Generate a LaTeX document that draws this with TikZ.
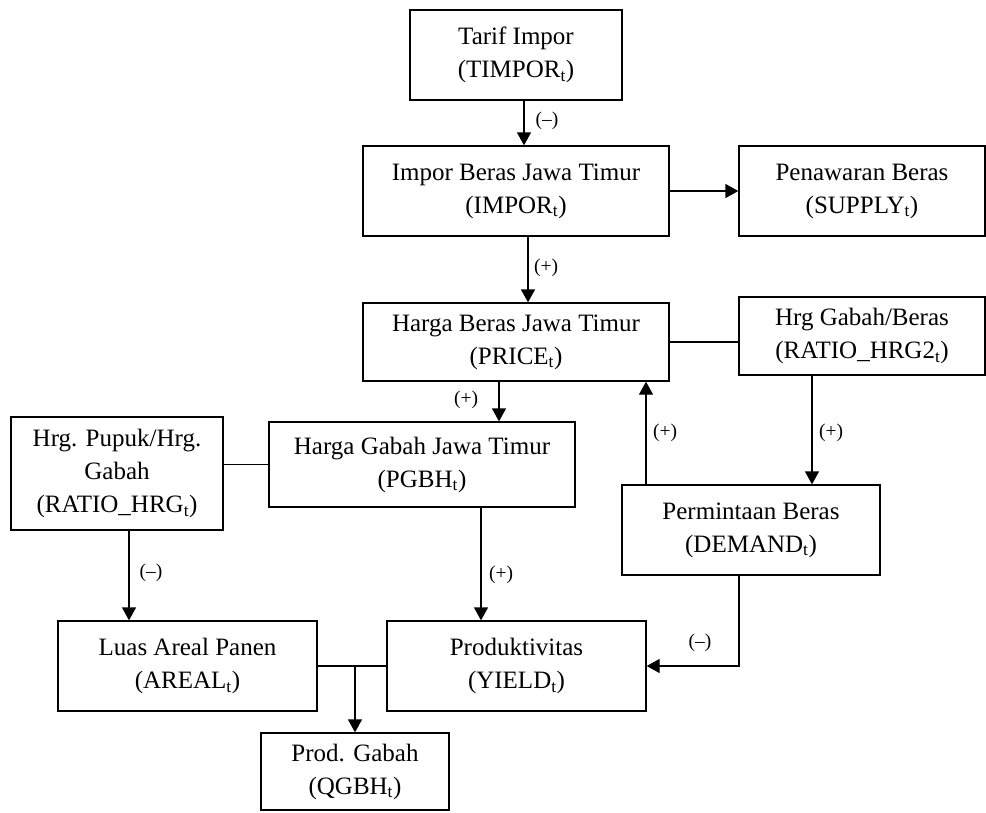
\documentclass[tikz,border=0pt]{standalone}
\usepackage{fontspec}
\setmainfont{Liberation Serif}
\usetikzlibrary{arrows.meta}
\newcommand{\sbt}{\textsubscript{t}}
\tikzset{
  box/.style={draw, line width=1.3pt, align=center, inner sep=0pt,
    font=\fontsize{25}{33}\selectfont},
  arr/.style={line width=1.3pt, -{Triangle[length=13pt,width=14pt]}},
  conn/.style={line width=1.3pt},
  sign/.style={font=\fontsize{19.5}{21}\selectfont, inner sep=0pt}
}
\begin{document}
\begin{tikzpicture}[x=1pt,y=-1pt]
\useasboundingbox (0,0) rectangle (986,812);
% boxes
\node[box, minimum width=212pt, minimum height=90pt] (tarif) at (516,55) {Tarif Impor\\(TIMPOR\sbt)};
\node[box, minimum width=306pt, minimum height=90pt] (impor) at (516,191) {Impor Beras Jawa Timur\\(IMPOR\sbt)};
\node[box, minimum width=246pt, minimum height=90pt] (supply) at (862,191) {Penawaran Beras\\(SUPPLY\sbt)};
\node[box, minimum width=306pt, minimum height=78pt] (price) at (516,342) {Harga Beras Jawa Timur\\(PRICE\sbt)};
\node[box, minimum width=246pt, minimum height=78pt] (ratio2) at (862,336) {Hrg Gabah/Beras\\(RATIO\_HRG2\sbt)};
\node[box, minimum width=212pt, minimum height=113pt] (ratiohrg) at (117,473.5) {Hrg. Pupuk/Hrg.\\Gabah\\(RATIO\_HRG\sbt)};
\node[box, minimum width=306pt, minimum height=85pt] (pgbh) at (422,464.5) {Harga Gabah Jawa Timur\\(PGBH\sbt)};
\node[box, minimum width=258pt, minimum height=90pt] (demand) at (751,530) {Permintaan Beras\\(DEMAND\sbt)};
\node[box, minimum width=259pt, minimum height=90pt] (areal) at (187.5,666) {Luas Areal Panen\\(AREAL\sbt)};
\node[box, minimum width=259pt, minimum height=90pt] (yield) at (516.5,666) {Produktivitas\\(YIELD\sbt)};
\node[box, minimum width=188pt, minimum height=77pt] (qgbh) at (355,771.5) {Prod. Gabah\\(QGBH\sbt)};
% connectors
\draw[arr] ([xshift=8pt]tarif.south) -- ([xshift=8pt]tarif.south |- impor.north);
\draw[arr] (impor.east) -- (supply.west);
\draw[arr] ([xshift=12pt]impor.south) -- ([xshift=12pt]impor.south |- price.north);
\draw[conn] (price.east) -- (price.east -| ratio2.west);
\draw[arr] ([xshift=-17pt]price.south) -- ([xshift=-17pt]price.south |- pgbh.north);
\draw[conn] (pgbh.west) -- (pgbh.west -| ratiohrg.east);
\draw[arr] ([xshift=12pt]ratiohrg.south) -- ([xshift=12pt]ratiohrg.south |- areal.north);
\draw[arr] ([xshift=59pt]pgbh.south) -- ([xshift=59pt]pgbh.south |- yield.north);
\draw[arr] ([xshift=-50pt]ratio2.south) -- ([xshift=-50pt]ratio2.south |- demand.north);
\draw[arr] ([xshift=-105pt]demand.north) -- ([xshift=-105pt]demand.north |- price.south);
\draw[arr] ([xshift=-12pt]demand.south) |- (yield.east);
\draw[conn] (areal.east) -- (yield.west);
\draw[arr] (qgbh.north |- areal.east) -- (qgbh.north);
% signs
\node[sign] (s1) at (547,121) {(–)};
\node[sign] (s2) at (546,268) {(+)};
\node[sign] (s3) at (466,400) {(+)};
\node[sign] (s4) at (665,433) {(+)};
\node[sign] (s5) at (831,433) {(+)};
\node[sign] (s6) at (151,573) {(–)};
\node[sign] (s7) at (501,575) {(+)};
\node[sign] (s8) at (700,643) {(–)};
\end{tikzpicture}
\end{document}
